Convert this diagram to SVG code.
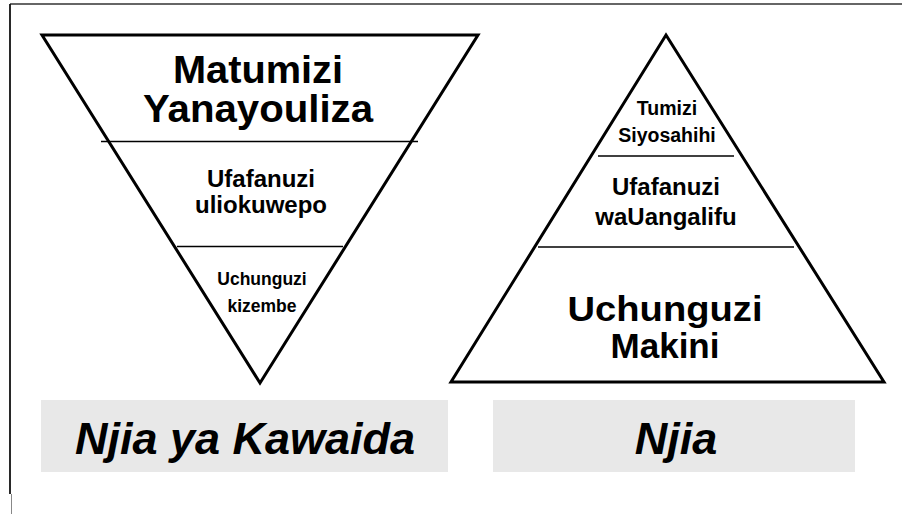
<svg xmlns="http://www.w3.org/2000/svg" width="902" height="514" viewBox="0 0 902 514">
  <style>
    .tri { fill: #ffffff; stroke: #000000; stroke-width: 3; stroke-linejoin: miter; }
    .div { stroke: #000000; stroke-width: 1.5; fill: none; }
    .t { font-family: "Liberation Sans", Arial, sans-serif; font-weight: bold; fill: #000000; text-anchor: middle; }
    .cap { fill: #e8e8e8; }
    .ct { font-family: "Liberation Sans", Arial, sans-serif; font-weight: bold; font-style: italic; fill: #000000; text-anchor: middle; font-size: 45px; }
  </style>
  <rect x="0" y="0" width="902" height="514" fill="#ffffff"/>
  <g id="frame">
    <line x1="10" y1="4" x2="902" y2="4" stroke="#333333" stroke-width="1.5"/>
    <line x1="10" y1="4" x2="10" y2="494" stroke="#111111" stroke-width="1.8"/>
    <line x1="11.5" y1="494" x2="11.5" y2="514" stroke="#888888" stroke-width="1"/>
  </g>
  <g id="inverted-triangle">
    <polygon class="tri" points="42,35 478,35 260,383"/>
    <line class="div" x1="101" y1="141.5" x2="418" y2="141.5"/>
    <line class="div" x1="177" y1="246.5" x2="343" y2="246.5"/>
    <text class="t" x="258" y="83" font-size="38" textLength="170" lengthAdjust="spacingAndGlyphs">Matumizi</text>
    <text class="t" x="258" y="121.5" font-size="38" textLength="230" lengthAdjust="spacingAndGlyphs">Yanayouliza</text>
    <text class="t" x="261" y="187" font-size="24">Ufafanuzi</text>
    <text class="t" x="261" y="213" font-size="24">uliokuwepo</text>
    <text class="t" x="262" y="285" font-size="17.5">Uchunguzi</text>
    <text class="t" x="262" y="311.5" font-size="17.5">kizembe</text>
  </g>
  <g id="pyramid">
    <polygon class="tri" points="666,35 884,382 451,382"/>
    <line class="div" x1="598" y1="156" x2="734" y2="156"/>
    <line class="div" x1="538" y1="247" x2="794" y2="247"/>
    <text class="t" x="667" y="115" font-size="19.5">Tumizi</text>
    <text class="t" x="667" y="141.5" font-size="19.5">Siyosahihi</text>
    <text class="t" x="666" y="195" font-size="24">Ufafanuzi</text>
    <text class="t" x="666" y="225" font-size="24">waUangalifu</text>
    <text class="t" x="665" y="321" font-size="35" textLength="195" lengthAdjust="spacingAndGlyphs">Uchunguzi</text>
    <text class="t" x="665" y="358" font-size="35" textLength="109" lengthAdjust="spacingAndGlyphs">Makini</text>
  </g>
  <g id="caption-left">
    <rect class="cap" x="41" y="400" width="407" height="72"/>
    <text class="ct" x="245" y="454">Njia ya Kawaida</text>
  </g>
  <g id="caption-right">
    <rect class="cap" x="493" y="400" width="362" height="72"/>
    <text class="ct" x="676" y="454">Njia</text>
  </g>
  <g id="connectors"/>
</svg>
